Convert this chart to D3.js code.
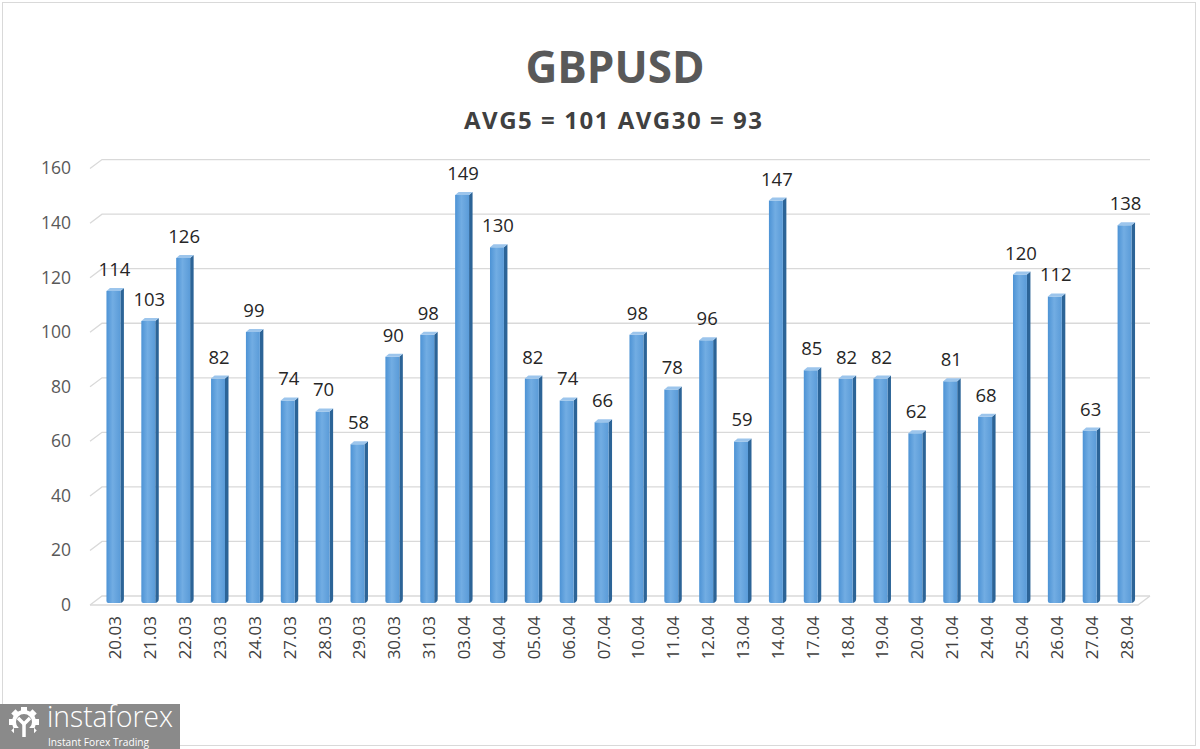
<!DOCTYPE html>
<html><head><meta charset="utf-8">
<script src="https://cdn.jsdelivr.net/npm/d3@7"></script>
<style>html,body{margin:0;padding:0;background:#fff;}svg{display:block;}</style>
</head><body>
<svg id="c" width="1200" height="749"></svg>
<script>
const categories = ["20.03","21.03","22.03","23.03","24.03","27.03","28.03","29.03","30.03","31.03","03.04","04.04","05.04","06.04","07.04","10.04","11.04","12.04","13.04","14.04","17.04","18.04","19.04","20.04","21.04","24.04","25.04","26.04","27.04","28.04"];
const values = [114,103,126,82,99,74,70,58,90,98,149,130,82,74,66,98,78,96,59,147,85,82,82,62,81,68,120,112,63,138];
const yTicks = [0,20,40,60,80,100,120,140,160];
const title = "GBPUSD";
const subtitle = "AVG5 = 101 AVG30 = 93";

const svg = d3.select("#c");
const defs = svg.append("defs");
const gFront = defs.append("linearGradient").attr("id","gf").attr("x1","0").attr("x2","1").attr("y1","0").attr("y2","0");
gFront.append("stop").attr("offset","0").attr("stop-color","#4d93d5");
gFront.append("stop").attr("offset","0.45").attr("stop-color","#72ade3");
gFront.append("stop").attr("offset","1").attr("stop-color","#5a9bd8");

// frame
svg.append("rect").attr("x",2.5).attr("y",2.5).attr("width",1193).attr("height",743).attr("fill","none").attr("stroke","#d9d9d9").attr("stroke-width",1);

const dx = 12, dy = 9;
const yBack = d3.scaleLinear().domain([0,160]).range([596,159.6]);
const yFront = d3.scaleLinear().domain([0,160]).range([603,165]);
const x = d3.scaleBand().domain(categories).range([96,1142]).paddingInner(0.6).paddingOuter(0.3);

const font = "'Open Sans', sans-serif";

// gridlines
const grid = svg.append("g");
yTicks.forEach(t => {
  const yy = yBack(t);
  grid.append("path")
    .attr("d", `M${102-dx},${yy+dy} L102,${yy} L1150,${yy}`)
    .attr("fill","none").attr("stroke","#d9d9d9").attr("stroke-width",1.3);
});
grid.append("path").attr("d", `M90,${yBack(0)+dy} L1138,${yBack(0)+dy} L1150,${yBack(0)}`)
  .attr("fill","none").attr("stroke","#d9d9d9").attr("stroke-width",1.3);

// y axis labels
const yAxis = d3.axisLeft(yBack).tickValues(yTicks).tickSize(0).tickPadding(0);
const ya = svg.append("g").attr("transform","translate(71,8)").call(yAxis);
ya.select(".domain").remove();
ya.selectAll("text").attr("font-family",font).attr("font-size","17.5px").attr("fill","#595959").attr("dy","0.36em").attr("dx","0");

// bars
const bw = x.bandwidth();
const side = 3.5, topd = 3;
const bars = svg.append("g");
categories.forEach((c,i) => {
  const v = values[i];
  const x0 = x(c), yt = yFront(v), yb = yFront(0);
  bars.append("path")
    .attr("d", `M${x0+bw},${yt} L${x0+bw+side},${yt-topd} L${x0+bw+side},${yb-topd-1} Q${x0+bw+side},${yb-1} ${x0+bw},${yb} Z`)
    .attr("fill","#2c6497");
  bars.append("path")
    .attr("d", `M${x0},${yt} L${x0+bw},${yt} L${x0+bw},${yb} L${x0+2},${yb} Q${x0},${yb} ${x0},${yb-2} Z`)
    .attr("fill","url(#gf)");
  bars.append("path")
    .attr("d", `M${x0},${yt} L${x0+side},${yt-topd} L${x0+bw+side},${yt-topd} L${x0+bw},${yt} Z`)
    .attr("fill","#9cc5ec");
  svg.append("text").attr("x", x0+bw/2+1).attr("y", yt-15)
    .attr("text-anchor","middle").attr("font-family",font).attr("font-size","18.5px").attr("fill","#262626")
    .text(v);
});

// x labels
const xAxis = d3.axisBottom(x).tickSize(0).tickPadding(0);
const xa = svg.append("g").attr("transform","translate(2,616)").call(xAxis);
xa.select(".domain").remove();
xa.selectAll("text").attr("font-family",font).attr("font-size","17px").attr("fill","#404040")
  .attr("transform","rotate(-90)").attr("text-anchor","end").attr("x",0).attr("y",0).attr("dy","0.35em");

// titles
svg.append("text").attr("x",615).attr("y",83).attr("text-anchor","middle")
  .attr("font-family",font).attr("font-weight","bold").attr("font-size","44px").attr("fill","#595959").text(title);
svg.append("text").attr("x",613).attr("y",129).attr("text-anchor","middle")
  .attr("font-family",font).attr("font-weight","bold").attr("font-size","24px").attr("fill","#404040")
  .attr("textLength",298).attr("lengthAdjust","spacing").text(subtitle);

// logo
const lg = svg.append("g");
lg.append("rect").attr("x",0).attr("y",704).attr("width",180).attr("height",45).attr("fill","#8a8a8a");
const gear = lg.append("g").attr("transform","translate(24,722)");
for (let k=0;k<8;k++){
  gear.append("rect").attr("x",-3).attr("y",-15).attr("width",6).attr("height",7).attr("fill","#fff").attr("transform",`rotate(${k*45})`);
}
gear.append("circle").attr("r",10).attr("fill","none").attr("stroke","#fff").attr("stroke-width",4);
gear.append("rect").attr("x",-10).attr("y",6).attr("width",20).attr("height",10).attr("fill","#8a8a8a");
gear.append("path").attr("d","M-6,-4 L0,2 L6,-4").attr("stroke","#fff").attr("stroke-width",3.5).attr("fill","none");
gear.append("path").attr("d","M0,0 L0,15").attr("stroke","#fff").attr("stroke-width",3.5);
lg.append("text").attr("x",47).attr("y",727).attr("font-family",font).attr("font-weight","300").attr("font-size","29px").attr("fill","#fff").attr("textLength",126).attr("lengthAdjust","spacingAndGlyphs").text("instaforex");
lg.append("text").attr("x",48).attr("y",746).attr("font-family",font).attr("font-size","11px").attr("fill","#fff").attr("textLength",101).attr("lengthAdjust","spacingAndGlyphs").text("Instant Forex Trading");
</script>
</body></html>
